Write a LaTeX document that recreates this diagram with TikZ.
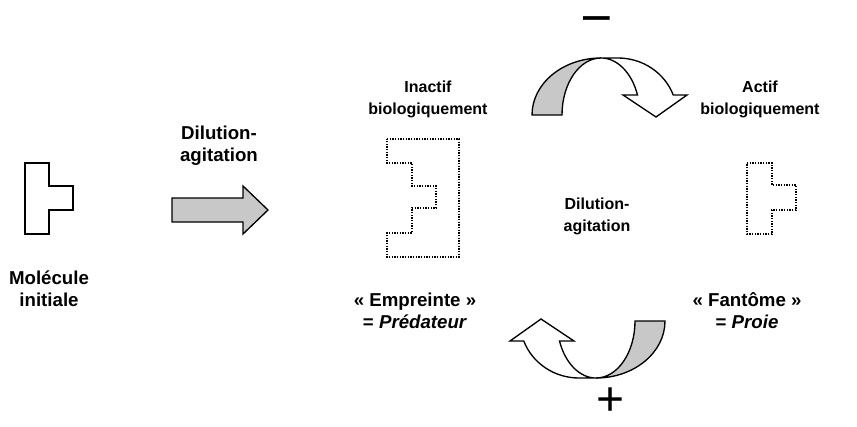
\documentclass[tikz,border=0pt]{standalone}
\usepackage{fontspec}
\setmainfont{Liberation Sans}
\usetikzlibrary{calc}
\definecolor{ribbongray}{RGB}{200,200,200}
\def\ribbonarrow[#1](#2){%
\begin{scope}[shift={(#2)},#1]
  \draw[line width=1pt, fill=ribbongray] (-69,0) arc[start angle=180, end angle=90, x radius=69, y radius=57] arc[start angle=90, end angle=180, x radius=39, y radius=57] -- cycle;
  \draw[line width=1pt, fill=white] (0,57) -- (17,57) arc[start angle=90, end angle=20.5, x radius=59, y radius=57] -- (86,20) -- (55,-2) -- (22,20) -- (36.5,20) arc[start angle=20.5, end angle=90, x radius=39, y radius=57] -- cycle;
\end{scope}}

\begin{document}
\begin{tikzpicture}[x=0.75pt, y=0.75pt,
    lbl/.style={font=\bfseries\fontsize{12}{16.5}\selectfont, align=center},
    biglbl/.style={font=\bfseries\fontsize{14}{16.5}\selectfont, align=center},
    sign/.style={font=\fontsize{36}{36}\selectfont, inner sep=0pt, anchor=base},
    dotline/.style={line width=0.9pt, dash pattern=on 0.9pt off 1.1pt}]
		%%%%% START %%%%%
		\useasboundingbox (0,0) rectangle (857,-426);
		
		% starting molecule
		\draw[line width=1.1pt] (25,-163) -- (49,-163) -- (49,-186) -- (73,-186) -- (73,-210) -- (49,-210) -- (49,-234) -- (25,-234) -- cycle;
		\node[biglbl] (molecule) at (49,-289) {Molécule\\initiale};
		
		% dilution step
		\node[biglbl] (dilleft) at (219,-146) {Dilution-\\agitation};
		\draw[line width=1pt, fill=ribbongray] (172,-198) -- (243,-198) -- (243,-186) -- (268,-210) -- (243,-234) -- (243,-222) -- (172,-222) -- cycle;
		
		% imprint and ghost
		\draw[dotline] (387,-139) -- (459,-139) -- (459,-257) -- (387,-257) -- (387,-233) -- (412,-233) -- (412,-208) -- (436,-208) -- (436,-186) -- (412,-186) -- (412,-163) -- (387,-163) -- cycle;
		\draw[dotline] (747,-163) -- (772,-163) -- (772,-185) -- (796,-185) -- (796,-210) -- (772,-210) -- (772,-234) -- (747,-234) -- cycle;
		
		\node[lbl] (inactive) at (428,-99) {Inactif\\biologiquement};
		\node[lbl] (active) at (760,-99) {Actif\\biologiquement};
		\node[lbl] (dilcentre) at (597,-216) {Dilution-\\agitation};
		\node[biglbl] (imprint) at (415,-311) {« Empreinte »\\= \textit{Prédateur}};
		\node[biglbl] (phantom) at (747,-311) {« Fantôme »\\= \textit{Proie}};
		
		% the cycle
		\ribbonarrow[](601,-115)
		\ribbonarrow[rotate=180](596,-321)
		\node[sign, font=\bfseries\fontsize{20}{20}\selectfont] (minus) at (597,-28) {\scalebox{1}[1.4]{—}};
		\node[sign] (plus) at (611,-415) {+};
		
		%%%%% END %%%%%
\end{tikzpicture}
\end{document}
